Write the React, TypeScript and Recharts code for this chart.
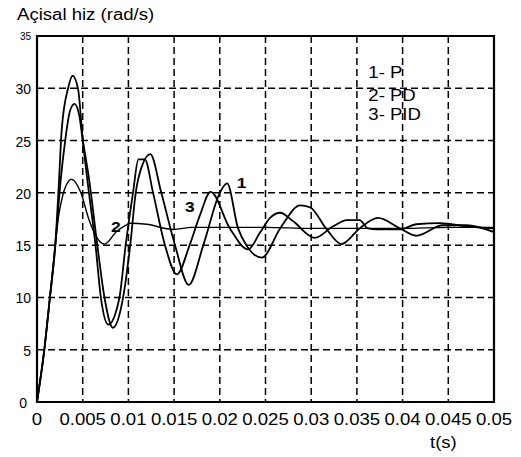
import { LineChart, Line, XAxis, YAxis, CartesianGrid, ReferenceArea, ReferenceDot } from 'recharts'

// t(s) values and angular speed (rad/s)
const tP = [0, 0.0008, 0.0014, 0.002, 0.0026, 0.0031, 0.0036, 0.0041, 0.0046, 0.005, 0.0057, 0.0066, 0.0074, 0.0083, 0.0094, 0.0102, 0.0108, 0.0115, 0.0124, 0.0136, 0.0151, 0.0166, 0.0182, 0.02, 0.0208, 0.022, 0.0229, 0.0246, 0.0266, 0.0288, 0.0299, 0.0317, 0.0333, 0.0353, 0.0373, 0.0397, 0.0415, 0.0444, 0.047, 0.05]
const vP = [0, 5, 9.9, 15, 21.3, 25.1, 27.8, 28.5, 27.5, 25.1, 21.3, 15, 9.9, 7.1, 9.9, 15, 20, 22.6, 23.7, 20, 15, 11.2, 15, 20, 20.9, 16.6, 15, 13.8, 16.6, 18.8, 18.6, 16.5, 15.1, 16.6, 17.6, 16.6, 15.9, 16.9, 16.9, 16.25]

const tPD = [0, 0.0008, 0.0014, 0.002, 0.0024, 0.0027, 0.003, 0.0038, 0.0048, 0.0057, 0.0065, 0.0074, 0.0087, 0.0097, 0.0102, 0.012, 0.0149, 0.017, 0.02, 0.025, 0.03, 0.035, 0.04, 0.045, 0.05]
const vPD = [0, 5, 9.9, 15, 18, 19.3, 20.3, 21.3, 20, 17.4, 15.8, 15.1, 16.3, 16.9, 17.1, 17.0, 16.5, 16.7, 16.7, 16.7, 16.6, 16.6, 16.6, 16.7, 16.7]

const tPID = [0, 0.0008, 0.0014, 0.002, 0.0024, 0.0027, 0.0034, 0.0039, 0.0045, 0.005, 0.0055, 0.0064, 0.007, 0.0078, 0.009, 0.0097, 0.0105, 0.0111, 0.0118, 0.0127, 0.014, 0.0153, 0.0167, 0.0178, 0.019, 0.0211, 0.0231, 0.0244, 0.0255, 0.0266, 0.028, 0.0304, 0.0324, 0.0339, 0.0353, 0.0362, 0.0372, 0.0397, 0.0415, 0.0441, 0.047, 0.05]
const vPID = [0, 5, 9.9, 15, 21, 26, 30, 31.2, 29.9, 25.1, 21.3, 15, 9.9, 7.4, 9.9, 15, 20, 23.2, 23.2, 20, 15, 12.2, 15, 17.8, 20.1, 16.6, 14.6, 16.2, 17.6, 18.1, 17.3, 15.7, 16.8, 17.4, 17.4, 16.6, 16.5, 16.5, 17.0, 17.1, 16.8, 16.6]

const xTicks = [0, 0.005, 0.01, 0.015, 0.02, 0.025, 0.03, 0.035, 0.04, 0.045, 0.05]
const xTickLabels = ['0', '0.005', '0.01', '0.015', '0.02', '0.025', '0.03', '0.035', '0.04', '0.045', '0.05']
const yTicks = [0, 5, 10, 15, 20, 25, 30, 35]

// legend entries and curve numbers, placed in data coordinates
const legendItems = ['1- P', '2- PD', '3- PID']
const legendT = 0.03625
const legendV = [31.0, 28.8, 26.95]
const curveMarks = [
  { text: '1', t: 0.02185, v: 20.5 },
  { text: '2', t: 0.0081, v: 16.3 },
  { text: '3', t: 0.0162, v: 18.2 },
]

const toPoints = (t: number[], v: number[]) => t.map((x, i) => ({ t: x, v: v[i] }))
const dataP = toPoints(tP, vP)
const dataPD = toPoints(tPD, vPD)
const dataPID = toPoints(tPID, vPID)

const FONT = '"Liberation Sans", Arial, sans-serif'
const SX = 1.16

function Stretched({ x, y, text, size, anchor = 'start', weight = 'normal' }: any) {
  return (
    <text
      x={0}
      y={0}
      transform={`translate(${x} ${y}) scale(${SX} 1)`}
      textAnchor={anchor}
      fontFamily={FONT}
      fontSize={size}
      fontWeight={weight}
      fill="#000"
    >
      {text}
    </text>
  )
}

function XTick({ x, y, payload }: any) {
  const i = xTicks.indexOf(payload.value)
  return <Stretched x={x} y={y + 15} text={xTickLabels[i]} size={16} anchor="middle" />
}

function YTick({ y, payload }: any) {
  const v = payload.value
  if (v === 35) {
    return (
      <text x={31} y={y + 4} textAnchor="end" fontFamily={FONT} fontSize={10} fill="#000">
        35
      </text>
    )
  }
  return (
    <text x={v === 0 ? 27 : 31} y={y + 6} textAnchor="end" fontFamily={FONT} fontSize={14} fill="#000">
      {v}
    </text>
  )
}

export default function App() {
  const lineProps = {
    type: 'monotone' as const,
    dataKey: 'v',
    stroke: '#000',
    strokeWidth: 1.8,
    dot: false,
    isAnimationActive: false,
  }
  return (
    <div style={{ position: 'absolute', left: 0, top: 0, width: 521, height: 457, background: '#fff', fontFamily: FONT }}>
      <div
        style={{
          position: 'absolute',
          left: 17,
          top: 6,
          fontSize: 16,
          whiteSpace: 'nowrap',
          transform: `scaleX(${SX})`,
          transformOrigin: 'left top',
        }}
      >
        Açisal hiz (rad/s)
      </div>
      <div
        style={{
          position: 'absolute',
          left: 430,
          top: 434,
          fontSize: 16,
          whiteSpace: 'nowrap',
          transform: `scaleX(${SX})`,
          transformOrigin: 'left top',
        }}
      >
        t(s)
      </div>
      <LineChart width={521} height={457} margin={{ top: 36, right: 27, left: 0, bottom: 0 }}>
        <CartesianGrid stroke="#000" strokeDasharray="7 4" strokeWidth={1.5} />
        <XAxis
          dataKey="t"
          type="number"
          domain={[0, 0.05]}
          ticks={xTicks}
          height={55}
          axisLine={false}
          tickLine={false}
          tick={<XTick />}
          interval={0}
          allowDataOverflow
        />
        <YAxis
          type="number"
          domain={[0, 35]}
          ticks={yTicks}
          width={37}
          axisLine={false}
          tickLine={false}
          tick={<YTick />}
          interval={0}
        />
        <ReferenceArea x1={0} x2={0.05} y1={0} y2={35} fill="none" stroke="#000" strokeWidth={2.2} ifOverflow="visible" />
        <Line data={dataP} {...lineProps} />
        <Line data={dataPD} {...lineProps} strokeWidth={1.4} />
        <Line data={dataPID} {...lineProps} />
        {legendItems.map((s, i) => (
          <ReferenceDot
            key={s}
            x={legendT}
            y={legendV[i]}
            r={1}
            ifOverflow="visible"
            shape={(p: any) => <Stretched x={p.cx} y={p.cy} text={s} size={16} />}
          />
        ))}
        {curveMarks.map((m) => (
          <ReferenceDot
            key={m.text}
            x={m.t}
            y={m.v}
            r={1}
            ifOverflow="visible"
            shape={(p: any) => <Stretched x={p.cx} y={p.cy} text={m.text} size={15} weight="bold" />}
          />
        ))}
      </LineChart>
    </div>
  )
}
